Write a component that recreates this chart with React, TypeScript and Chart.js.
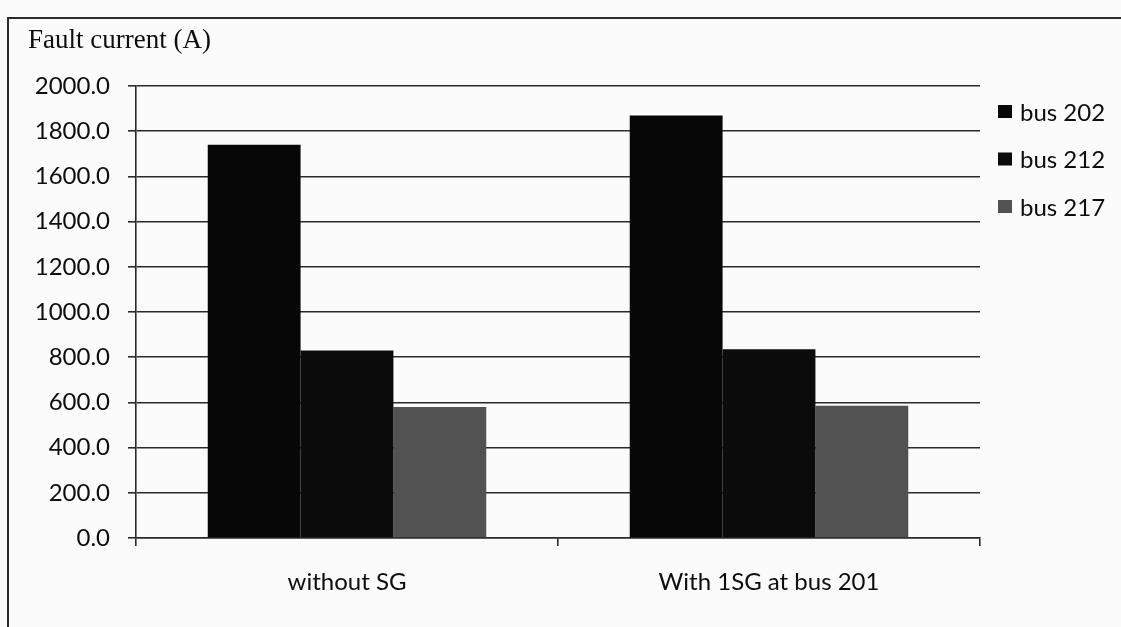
import React, { useEffect, useRef } from "react";
import { Chart, registerables } from "chart.js";

Chart.register(...registerables);

// Fault current per bus, for the two network configurations
const categories = ["without SG", "With 1SG at bus 201"];
const seriesNames = ["bus 202", "bus 212", "bus 217"];
const bus202 = [1740, 1870];
const bus212 = [830, 835];
const bus217 = [580, 585];
const seriesColors = ["#070707", "#0b0b0b", "#525252"];
const yTicks = [0, 200, 400, 600, 800, 1000, 1200, 1400, 1600, 1800, 2000];
const titleText = "Fault current (A)";

const SANS = "Lato, 'Open Sans', sans-serif";
const SERIF = "'Liberation Serif', 'DejaVu Serif', serif";
const TEXT = "#0d0d0d";

// Draws the axis title in the top-left corner and the legend on the right
const decorations = {
  id: "decorations",
  afterDraw(chart: any) {
    const ctx = chart.ctx;
    ctx.save();
    ctx.fillStyle = TEXT;
    ctx.font = `27px ${SERIF}`;
    ctx.textAlign = "left";
    ctx.textBaseline = "alphabetic";
    ctx.fillText(titleText, 28, 48);

    const centers = [112, 159.5, 207];
    chart.data.datasets.forEach((ds: any, i: number) => {
      const cy = centers[i];
      ctx.fillStyle = ds.backgroundColor;
      ctx.fillRect(998, cy - 7, 14, 13);
      ctx.fillStyle = TEXT;
      ctx.font = `24px ${SANS}`;
      ctx.textBaseline = "middle";
      ctx.fillText(ds.label, 1020, cy + 1);
    });
    ctx.restore();
  },
};

export default function App() {
  const canvasRef = useRef<HTMLCanvasElement | null>(null);

  useEffect(() => {
    const canvas = canvasRef.current;
    if (!canvas) return;
    const values = [bus202, bus212, bus217];
    const chart = new Chart(canvas, {
      type: "bar",
      data: {
        labels: categories,
        datasets: seriesNames.map((name, i) => ({
          label: name,
          data: values[i],
          backgroundColor: seriesColors[i],
          borderWidth: 0,
          categoryPercentage: 0.66,
          barPercentage: 1.0,
        })),
      },
      options: {
        animation: false,
        responsive: false,
        maintainAspectRatio: false,
        layout: { padding: { top: 86, right: 141, bottom: 0, left: 0 } },
        plugins: {
          legend: { display: false },
          tooltip: { enabled: false },
          title: { display: false },
        },
        scales: {
          x: {
            grid: {
              offset: true,
              drawOnChartArea: false,
              drawTicks: true,
              tickLength: 8,
              color: "#2a2a2a",
              lineWidth: 1.6,
            },
            border: { color: "#2a2a2a", width: 1.6 },
            ticks: {
              color: TEXT,
              font: { family: SANS, size: 24 },
              padding: 22,
              maxRotation: 0,
            },
            afterFit(scale: any) {
              scale.height = 89;
            },
          },
          y: {
            min: 0,
            max: 2000,
            afterBuildTicks(scale: any) {
              scale.ticks = yTicks.map((v) => ({ value: v }));
            },
            ticks: {
              color: TEXT,
              font: { family: SANS, size: 24 },
              padding: 18,
              callback: (v: any) => Number(v).toFixed(1),
            },
            grid: {
              color: "#2a2a2a",
              lineWidth: 1.6,
              tickLength: 8,
            },
            border: { color: "#2a2a2a", width: 1.6 },
            afterFit(scale: any) {
              scale.width = 136;
            },
          },
        },
      },
      plugins: [decorations],
    });
    return () => chart.destroy();
  }, []);

  return (
    <div
      style={{
        position: "absolute",
        left: 0,
        top: 0,
        width: 1121,
        height: 627,
        background: "#fbfbfb",
        overflow: "hidden",
      }}
    >
      <div
        style={{
          position: "absolute",
          left: 7,
          top: 17,
          right: -4,
          bottom: -4,
          borderTop: "2px solid #2a2a2a",
          borderLeft: "2px solid #2a2a2a",
        }}
      />
      <canvas
        ref={canvasRef}
        width={1121}
        height={627}
        style={{ position: "absolute", left: 0, top: 0, width: 1121, height: 627 }}
      />
    </div>
  );
}
